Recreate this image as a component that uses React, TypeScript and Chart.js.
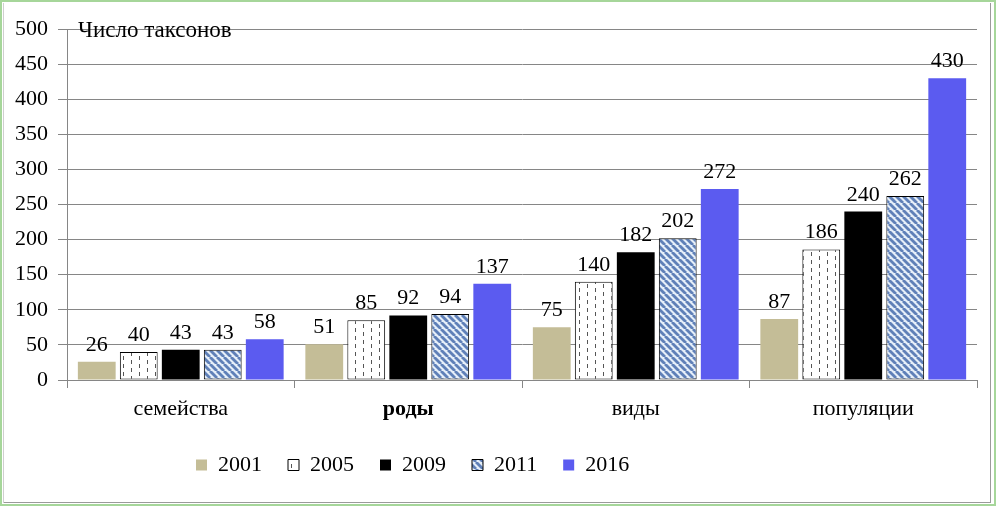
import React, { useEffect, useRef } from "react";
import { Chart, registerables } from "chart.js";

Chart.register(...registerables);

const categories = ["семейства", "роды", "виды", "популяции"];
const years = ["2001", "2005", "2009", "2011", "2016"];
const s2001 = [26, 51, 75, 87];
const s2005 = [40, 85, 140, 186];
const s2009 = [43, 92, 182, 240];
const s2011 = [43, 94, 202, 262];
const s2016 = [58, 137, 272, 430];
const yMin = 0;
const yMax = 500;
const yStep = 50;
const axisTitle = "Число таксонов";

const FONT = "'Liberation Serif', 'Times New Roman', serif";
const FS = 22;

function dashPattern(ctx: CanvasRenderingContext2D) {
  const c = document.createElement("canvas");
  c.width = 16;
  c.height = 8;
  const g = c.getContext("2d")!;
  g.fillStyle = "#ffffff";
  g.fillRect(0, 0, 16, 8);
  g.fillStyle = "#555555";
  g.fillRect(3, 0, 1, 4);
  g.fillRect(11, 4, 1, 4);
  return ctx.createPattern(c, "repeat")!;
}

function stripePattern(ctx: CanvasRenderingContext2D) {
  const s = 7;
  const c = document.createElement("canvas");
  c.width = s;
  c.height = s;
  const g = c.getContext("2d")!;
  g.fillStyle = "#e6eff9";
  g.fillRect(0, 0, s, s);
  g.strokeStyle = "#5f80b8";
  g.lineWidth = 2.8;
  for (const k of [-s, 0, s]) {
    g.beginPath();
    g.moveTo(k, 0);
    g.lineTo(k + s, s);
    g.stroke();
  }
  return ctx.createPattern(c, "repeat")!;
}

export default function App() {
  const ref = useRef<HTMLCanvasElement>(null);

  useEffect(() => {
    document.body.style.margin = "0";
    const canvas = ref.current!;
    const ctx = canvas.getContext("2d")!;

    const LEGEND_PAD = 26;

    const framePlugin = {
      id: "frame",
      beforeDraw(chart: any) {
        const c = chart.ctx;
        c.save();
        c.fillStyle = "#ffffff";
        c.fillRect(0, 0, chart.width, chart.height);
        c.restore();
      },
      afterDraw(chart: any) {
        const c = chart.ctx;
        c.save();
        c.strokeStyle = "#a6d69a";
        c.lineWidth = 2;
        c.strokeRect(1, 1, chart.width - 2, chart.height - 2);
        c.strokeStyle = "#9a9a9a";
        c.lineWidth = 1;
        c.beginPath();
        c.moveTo(990.5, 3);
        c.lineTo(990.5, 503);
        c.moveTo(3, 502.5);
        c.lineTo(991, 502.5);
        c.stroke();
        c.strokeStyle = "#cfcfcf";
        c.beginPath();
        c.moveTo(3.5, 3);
        c.lineTo(3.5, 503);
        c.stroke();
        c.restore();
      },
    };

    const labelsPlugin = {
      id: "valueLabels",
      afterDatasetsDraw(chart: any) {
        const c = chart.ctx;
        c.save();
        c.font = `${FS}px ${FONT}`;
        c.fillStyle = "#000000";
        c.textAlign = "center";
        c.textBaseline = "alphabetic";
        chart.data.datasets.forEach((ds: any, i: number) => {
          const meta = chart.getDatasetMeta(i);
          meta.data.forEach((el: any, j: number) => {
            c.fillText(String(ds.data[j]), el.x, el.y - 11);
          });
        });
        c.textAlign = "left";
        c.font = `23px ${FONT}`;
        c.fillText(axisTitle, chart.chartArea.left + 11, 37);
        c.restore();
      },
    };

    const legendPlace = {
      id: "legendPlace",
      afterLayout(chart: any) {
        const lg = chart.legend;
        if (!lg) return;
        const h = lg.height;
        lg.left = 196 - LEGEND_PAD;
        lg.right = 996;
        lg.top = 465 - LEGEND_PAD - 11;
        lg.bottom = lg.top + h;
      },
    };

    const chart = new Chart(canvas, {
      type: "bar",
      data: {
        labels: categories,
        datasets: [
          { label: years[0], data: s2001, backgroundColor: "#c4bd97", borderWidth: 0 },
          { label: years[1], data: s2005, backgroundColor: dashPattern(ctx), borderColor: "#000000", borderWidth: 1, borderSkipped: false },
          { label: years[2], data: s2009, backgroundColor: "#000000", borderWidth: 0 },
          { label: years[3], data: s2011, backgroundColor: stripePattern(ctx), borderColor: "#000000", borderWidth: 1, borderSkipped: false },
          { label: years[4], data: s2016, backgroundColor: "#5b5bf0", borderWidth: 0 },
        ] as any,
      },
      options: {
        responsive: false,
        animation: false,
        devicePixelRatio: 1,
        layout: { padding: { left: 0, right: 19, top: 29, bottom: 0 } },
        datasets: {
          bar: { categoryPercentage: 0.923, barPercentage: 0.9 },
        } as any,
        plugins: {
          legend: {
            position: "bottom",
            align: "start",
            labels: {
              boxWidth: 11,
              boxHeight: 11,
              padding: LEGEND_PAD,
              color: "#000000",
              font: { family: FONT, size: FS },
            },
          },
          tooltip: { enabled: false },
          title: { display: false },
        },
        scales: {
          x: {
            grid: {
              display: true,
              offset: true,
              drawOnChartArea: false,
              drawTicks: true,
              tickLength: 8,
              color: "#868686",
            },
            border: { display: true, color: "#868686" },
            ticks: {
              color: "#000000",
              padding: 8,
              font: (c: any) => ({
                family: FONT,
                size: FS,
                weight: c.index === 1 ? "bold" : "normal",
              }),
            } as any,
            afterFit(scale: any) {
              const lh = scale.chart.legend ? scale.chart.legend.height : 0;
              scale.height = 506 - 380 - lh;
            },
          },
          y: {
            min: yMin,
            max: yMax,
            grid: {
              color: "#868686",
              tickLength: 9,
            },
            border: { display: true, color: "#868686" },
            ticks: {
              stepSize: yStep,
              color: "#000000",
              padding: 10,
              font: { family: FONT, size: FS },
            },
            afterFit(scale: any) {
              scale.width = 67;
            },
          },
        },
      },
      plugins: [framePlugin, labelsPlugin, legendPlace],
    });

    return () => chart.destroy();
  }, []);

  return (
    <div style={{ width: 996, height: 506 }}>
      <canvas ref={ref} width={996} height={506} style={{ display: "block" }} />
    </div>
  );
}
